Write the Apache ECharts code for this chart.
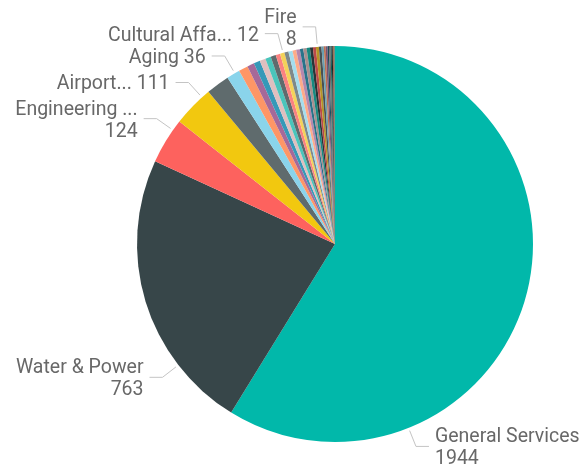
<!DOCTYPE html>
<html>
<head>
<meta charset="utf-8">
<script src="https://cdn.jsdelivr.net/npm/echarts@6/dist/echarts.min.js"></script>
<style>
  html, body { margin: 0; padding: 0; background: #ffffff; }
  #chart { width: 586px; height: 473px; }
</style>
</head>
<body>
<div id="chart"></div>
<script>
// Department counts, largest first
const departments = [
  "General Services", "Water & Power", "Engineering", "Airports", "Harbor", "Aging",
  "Building & Safety", "Transportation", "Sanitation", "Recreation & Parks", "Library", "Police",
  "Cultural Affairs", "Housing", "Planning", "City Attorney", "Personnel", "Finance",
  "Animal Services", "Controller", "Information Technology", "Street Services", "Street Lighting", "Fire",
  "Zoo", "El Pueblo", "City Clerk", "Emergency Management", "Disability", "Convention Center",
  "Economic Development", "Youth Development", "Civil Rights", "Ethics", "Cannabis Regulation", "Neighborhood Empowerment"
];
const counts = [
  1944, 763, 124, 111, 63, 36,
  25, 19, 17, 16, 15, 14,
  12, 12, 11, 11, 10, 10,
  9, 9, 9, 8, 8, 8,
  7, 6, 5, 5, 4, 4,
  3, 3, 2, 2, 1, 1
];
// Shortened names shown beside the labelled slices
const shownNames = {
  0: "General Services",
  1: "Water & Power",
  2: "Engineering ...",
  3: "Airport...",
  5: "Aging",
  12: "Cultural Affa...",
  23: "Fire"
};
// Labels that put the value on its own line
const twoLine = { 0: true, 1: true, 2: true, 23: true };

const palette = [
  "#01B8AA", "#374649", "#FD625E", "#F2C80F", "#5F6B6D", "#8AD4EB",
  "#FE9666", "#A66999", "#3599B8", "#DFBFBF", "#4AC5BB", "#5F6B6D",
  "#FB8281", "#F4D25A", "#7F898A", "#A4DDEE", "#FDAB89", "#B687AC",
  "#28738A", "#A78F8F", "#168980", "#293537", "#BB4A4A", "#B59525",
  "#475052", "#6A9FB0", "#BD7150", "#7B4F71", "#1B4D5C", "#706060",
  "#0F5C55", "#1C2325", "#7D3231", "#796419", "#303636", "#476A75"
];

// Pie geometry and leader-line placement (angles clockwise from 12 o'clock)
const cx = 335, cy = 244, R = 198;
const labelAngles = { 0: 158.2, 1: 232.3, 2: 305.1, 3: 317.8, 5: 329.6, 12: 344.8, 23: 354.9 };

function polar(deg, r) {
  const a = deg * Math.PI / 180;
  return [cx + r * Math.sin(a), cy - r * Math.cos(a)];
}

const data = departments.map((name, i) => {
  const labelled = shownNames[i] !== undefined;
  return {
    name: name,
    value: counts[i],
    itemStyle: { color: palette[i % palette.length] },
    label: { show: labelled },
    labelLine: { show: labelled }
  };
});

const chart = echarts.init(document.getElementById('chart'), null, { renderer: 'canvas' });
chart.setOption({
  animation: false,
  backgroundColor: '#ffffff',
  series: [{
    type: 'pie',
    center: [cx, cy],
    radius: R,
    startAngle: 90,
    clockwise: true,
    avoidLabelOverlap: false,
    minAngle: 0,
    data: data,
    itemStyle: { borderWidth: 0 },
    emphasis: { disabled: true },
    label: {
      position: 'outside',
      fontFamily: 'Roboto',
      fontSize: 19.5,
      lineHeight: 22,
      color: '#686868',
      formatter: function (p) {
        const i = p.dataIndex;
        return shownNames[i] + (twoLine[i] ? '\n' : ' ') + p.value;
      }
    },
    labelLine: {
      show: true,
      length: 17,
      length2: 13,
      smooth: false,
      lineStyle: { color: '#c4c4c4', width: 1 }
    },
    labelLayout: function (p) {
      const i = p.dataIndex;
      const ang = labelAngles[i];
      if (ang === undefined) return {};
      const start = polar(ang, R + 3);
      const elbow = polar(ang, R + 20);
      const right = ang < 180;
      const end = [elbow[0] + (right ? 13 : -13), elbow[1]];
      return {
        x: end[0] + (right ? 6 : -6),
        y: elbow[1] + 2,
        align: right ? 'left' : 'right',
        verticalAlign: 'middle',
        labelLinePoints: [start, elbow, end]
      };
    }
  }]
});
</script>
</body>
</html>
